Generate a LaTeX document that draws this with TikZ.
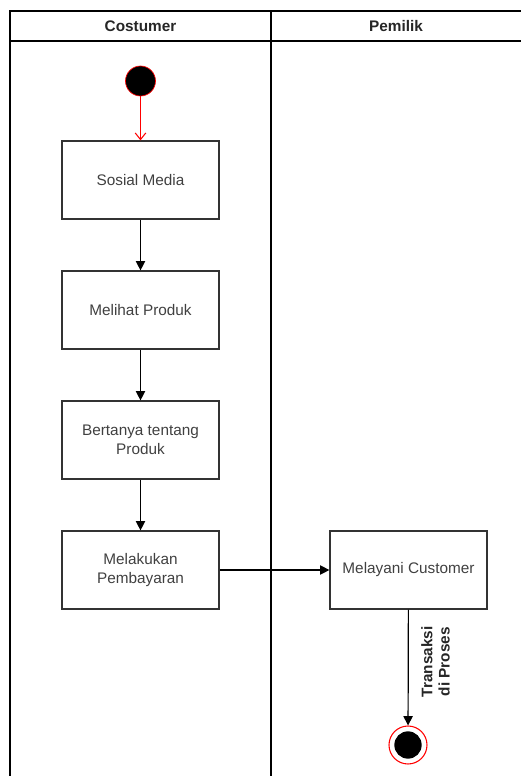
\documentclass[tikz,border=0pt]{standalone}
\usepackage{fontspec}
\setmainfont{Liberation Sans}
\usetikzlibrary{arrows.meta,positioning}

\begin{document}
\begin{tikzpicture}[x=0.75pt,y=-0.75pt,
    node distance=97.5pt,
    every text node part/.style={align=center},
    act/.style = {draw=black!80, line width=0.9pt, minimum width=117.75pt, minimum height=58.5pt,
                  inner sep=2pt, text=black!75, font=\fontsize{11.5}{14}\selectfont},
    lane/.style = {draw=black, line width=0.9pt},
    lbl/.style = {text=black!85, font=\bfseries\fontsize{11.5}{13}\selectfont}
  ]
  \tikzstyle{flow}=[draw=black, line width=0.9pt, -{Triangle[length=7pt,width=7pt]}]

  \useasboundingbox (0,0) rectangle (521,776);

  % swimlanes
  \draw[lane] (521,11) -- (10,11) -- (10,776);
  \draw[lane] (10,41) -- (521,41);
  \draw[lane] (271,11) -- (271,776);
  \node[lbl] (h_c) at (140.5,26) {Costumer};
  \node[lbl] (h_p) at (396,26)   {Pemilik};

  \node[circle, fill=black, draw=red, line width=0.5pt, minimum size=22.5pt, inner sep=0pt] (start) at (140.5,81) {};

  \node[act]  (a_1)  at (140.5,180)          {Sosial Media};
  \node[act]  (a_2)  [below of=a_1]          {Melihat Produk};
  \node[act]  (a_3)  [below of=a_2]          {Bertanya tentang\\Produk};
  \node[act]  (a_4)  [below of=a_3]          {Melakukan\\Pembayaran};
  \node[act]  (a_5)  [right of=a_4, node distance=201pt] {Melayani Customer};

  \node[circle, draw=red, line width=0.8pt, minimum size=28.5pt, inner sep=0pt] (end) at (408,745) {};
  \node[circle, fill=black, minimum size=20.5pt, inner sep=0pt] (end_in) at (end) {};

  \draw[draw=red, line width=0.8pt, -{Straight Barb[length=5pt,width=8pt]}] (start) -- (a_1);
  \draw[flow] (a_1) -- (a_2);
  \draw[flow] (a_2) -- (a_3);
  \draw[flow] (a_3) -- (a_4);
  \draw[flow] (a_4) -- (a_5);
  \draw[flow] (a_5) -- node [lbl, rotate=90, below, yshift=-6pt, pos=0.45] {Transaksi\\di Proses} (end);
\end{tikzpicture}
\end{document}
